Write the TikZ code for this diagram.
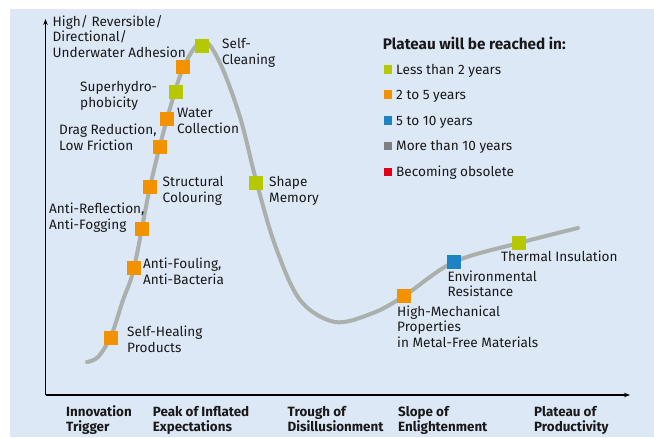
\documentclass[tikz,border=0pt]{standalone}
\usepackage{fontspec}
\setmainfont{Fira Sans}
\usetikzlibrary{arrows.meta}
\definecolor{bgblue}{RGB}{220,232,246}
\definecolor{curvegray}{RGB}{170,176,172}
\definecolor{cgreen}{RGB}{182,200,0}
\definecolor{corange}{RGB}{243,146,0}
\definecolor{cblue}{RGB}{30,131,195}
\definecolor{cgray}{RGB}{127,127,127}
\definecolor{cred}{RGB}{227,0,22}
\definecolor{txt}{RGB}{25,25,25}
\tikzset{
  x=1pt, y=-1pt,
  mark/.style={draw=none, fill=#1, minimum size=14pt, inner sep=0pt, outer sep=0pt},
  legmark/.style={draw=none, fill=#1, minimum size=8.5pt, inner sep=0pt, outer sep=0pt},
  lbl/.style={anchor=base west, inner sep=0pt, align=left, text=txt, font=\fontsize{13.6}{15.3}\selectfont},
  axlbl/.style={anchor=base west, inner sep=0pt, align=left, text=txt, font=\fontsize{13.4}{15}\selectfont\bfseries},
}
\begin{document}
\begin{tikzpicture}
\useasboundingbox (0,0) rectangle (654,437);
\fill[white] (0,0) rectangle (654,437);
\fill[bgblue] (10,9) rectangle (654,437);
% axes
\coordinate (o) at (45.5,395);
\coordinate (ytip) at (45.5,19);
\coordinate (xtip) at (630,395);
\draw[line width=1.6pt, -{Stealth[length=6pt,width=4.5pt]}] (o) -- (ytip);
\draw[line width=1.6pt, -{Stealth[length=6pt,width=4.5pt]}] (o) -- (xtip);
% hype curve
\draw[curvegray, line width=4pt, line cap=round] plot[smooth, tension=0.55] coordinates {
 (87,362) (98,357) (111,336) (123,300) (134,268) (150,187) (167,119) (184,66) (203,41) (220,63) (240,117) (256,180) (275,245) (300,300) (335,322) (373,313) (404,296) (454,262) (519,243) (578,228)};
% markers
\node[mark=corange] (m1) at (111,338) {};
\node[mark=corange] (m2) at (134,268) {};
\node[mark=corange] (m3) at (142,229) {};
\node[mark=corange] (m4) at (150,187) {};
\node[mark=corange] (m5) at (160,147) {};
\node[mark=corange] (m6) at (167,119) {};
\node[mark=cgreen] (m7) at (176,92) {};
\node[mark=corange] (m8) at (183,67) {};
\node[mark=cgreen] (m9) at (202,46) {};
\node[mark=cgreen] (m10) at (256,183) {};
\node[mark=corange] (m11) at (404,296) {};
\node[mark=cblue] (m12) at (454,262) {};
\node[mark=cgreen] (m13) at (519,243) {};
% labels (anchored at the baseline of the last line)
\node[lbl, font=\fontsize{13.6}{15.5}\selectfont] (ylab) at (52.5,57) {High/ Reversible/\\Directional/\\Underwater Adhesion};
\node[lbl] (l9) at (222,64) {Self-\\Cleaning};
\node[lbl] (l7) at (80,107) {Superhydro-\\phobicity};
\node[lbl] (l6) at (177,133) {Water\\Collection};
\node[lbl] (l5) at (59,150) {Drag Reduction,\\Low Friction};
\node[lbl] (l4) at (162.5,202) {Structural\\Colouring};
\node[lbl] (l10) at (269,202) {Shape\\Memory};
\node[lbl] (l3) at (49,229) {Anti-Reflection,\\Anti-Fogging};
\node[lbl] (l2) at (143,284) {Anti-Fouling,\\Anti-Bacteria};
\node[lbl] (l1) at (127,352) {Self-Healing\\Products};
\node[lbl, font=\fontsize{13.6}{15.5}\selectfont] (l11) at (397,347) {High-Mechanical\\Properties\\in Metal-Free Materials};
\node[lbl] (l12) at (447.3,296.7) {Environmental\\Resistance};
\node[lbl] (l13) at (501,261.7) {Thermal Insulation};
% legend
\node[axlbl, font=\fontsize{15.3}{18}\selectfont\bfseries] (legt) at (382.7,49) {Plateau will be reached in:};
\node[legmark=cgreen] (k1) at (388,69.5) {};
\node[legmark=corange] (k2) at (388,94.5) {};
\node[legmark=cblue] (k3) at (388,120.5) {};
\node[legmark=cgray] (k4) at (388,146) {};
\node[legmark=cred] (k5) at (388,172) {};
\node[lbl] (t1) at (396,74) {Less than 2 years};
\node[lbl] (t2) at (396,99.3) {2 to 5 years};
\node[lbl] (t3) at (396,125.3) {5 to 10 years};
\node[lbl] (t4) at (396,150.7) {More than 10 years};
\node[lbl] (t5) at (396,176.7) {Becoming obsolete};
% phase labels
\node[axlbl] (p1) at (66,431.7) {Innovation\\Trigger};
\node[axlbl] (p2) at (152.7,431.7) {Peak of Inflated\\Expectations};
\node[axlbl] (p3) at (287.5,431.7) {Trough of\\Disillusionment};
\node[axlbl] (p4) at (398,431.7) {Slope of\\Enlightenment};
\node[axlbl] (p5) at (534,431.7) {Plateau of\\Productivity};
\end{tikzpicture}
\end{document}
